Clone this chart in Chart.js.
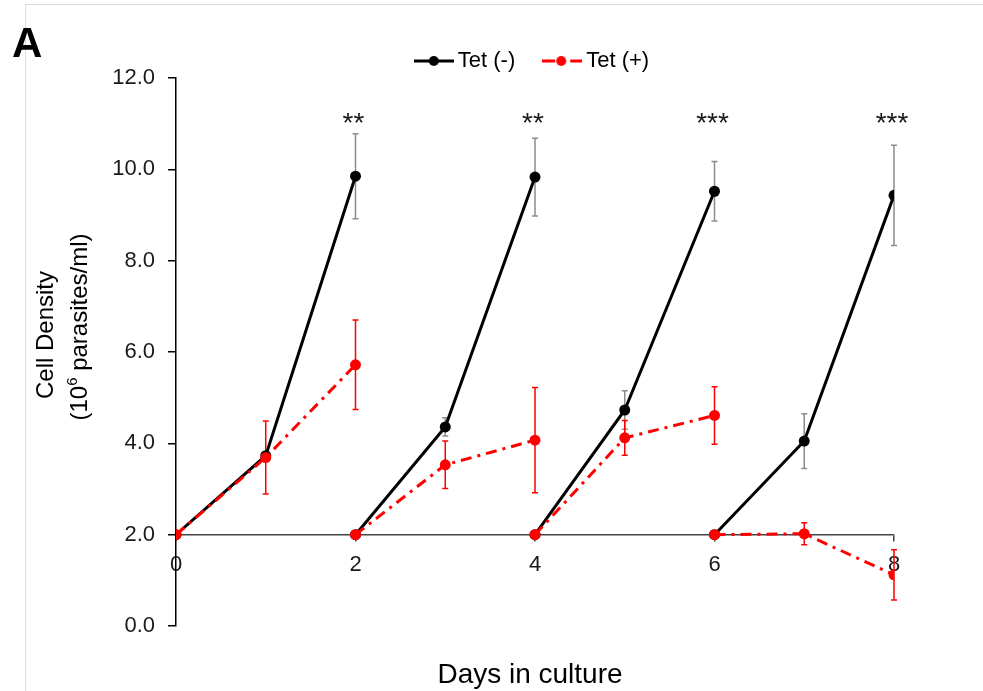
<!DOCTYPE html>
<html>
<head>
<meta charset="utf-8">
<script src="https://cdn.jsdelivr.net/npm/chart.js@4/dist/chart.umd.min.js"></script>
<style>
  html, body { margin: 0; padding: 0; background: #fff; }
  #wrap { position: relative; width: 983px; height: 691px; overflow: hidden; font-family: "Liberation Sans", Arial, sans-serif; }
  #frame { position: absolute; left: 25px; top: 4px; right: 0; bottom: 0; border-top: 1px solid #dcdcdc; border-left: 1px solid #dcdcdc; }
  #panel { position: absolute; left: 12px; top: 22px; font-weight: bold; font-size: 42px; line-height: 1; }
  canvas { position: absolute; left: 0; top: 0; }
</style>
</head>
<body>
<div id="wrap">
  <div id="frame"></div>
  <canvas id="growthChart" width="983" height="691"></canvas>
  <div id="panel">A</div>
</div>
<script>
// cultures were diluted back to 2.0 every 2 days -> 4 segments of 3 points
const segmentStarts = [0, 2, 4, 6];
const tetMinus    = [[2.0, 3.73, 9.85], [2.0, 4.36, 9.83], [2.0, 4.73, 9.52], [2.0, 4.05, 9.43]];
const tetMinusErr = [[0, 0, 0.93],      [0, 0.2, 0.85],    [0, 0.42, 0.65],   [0, 0.6, 1.1]];
const tetPlus     = [[2.0, 3.69, 5.72], [2.0, 3.53, 4.07], [2.0, 4.12, 4.61], [2.0, 2.02, 1.12]];
const tetPlusErr  = [[0, 0.8, 0.98],    [0, 0.52, 1.15],   [0, 0.38, 0.63],   [0, 0.24, 0.55]];
const sigDays  = [2, 4, 6, 8];
const sigMarks = ['**', '**', '***', '***'];
const sigLevel = 11.12;

Chart.defaults.font.family = '"Liberation Sans", Arial, sans-serif';
Chart.defaults.color = '#1a1a1a';

// null between segments breaks the line
function toPoints(segments) {
    const pts = [];
    segments.forEach((seg, s) => {
        if (s > 0) pts.push({ x: segmentStarts[s], y: null });
        seg.forEach((v, i) => pts.push({ x: segmentStarts[s] + i, y: v }));
    });
    return pts;
}

function legendIcon(color, dashed) {
    const c = document.createElement('canvas');
    c.width = 40; c.height = 12;
    const g = c.getContext('2d');
    g.strokeStyle = color; g.fillStyle = color; g.lineWidth = 3;
    g.beginPath();
    if (dashed) {
        g.moveTo(0, 6); g.lineTo(13, 6);
        g.moveTo(28, 6); g.lineTo(40, 6);
    } else {
        g.moveTo(0, 6); g.lineTo(40, 6);
    }
    g.stroke();
    g.beginPath();
    g.arc(dashed ? 19 : 20, 6, 5, 0, Math.PI * 2);
    g.fill();
    return c;
}
const legendIcons = [legendIcon('#000', false), legendIcon('#ff0000', true)];

function drawErrorBars(chart, segs, errs, color) {
    const { ctx, scales: { x, y } } = chart;
    ctx.save();
    ctx.strokeStyle = color;
    ctx.lineWidth = 1.5;
    segs.forEach((seg, s) => seg.forEach((v, i) => {
        const e = errs[s][i];
        if (!e) return;
        const px = x.getPixelForValue(segmentStarts[s] + i);
        const top = y.getPixelForValue(v + e);
        const bot = y.getPixelForValue(v - e);
        ctx.beginPath();
        ctx.moveTo(px - 3, top); ctx.lineTo(px + 3, top);
        ctx.moveTo(px, top); ctx.lineTo(px, bot);
        ctx.moveTo(px - 3, bot); ctx.lineTo(px + 3, bot);
        ctx.stroke();
    }));
    ctx.restore();
}

const extras = {
    id: 'extras',
    beforeDatasetsDraw(chart) {
        drawErrorBars(chart, tetMinus, tetMinusErr, '#8c8c8c');
        drawErrorBars(chart, tetPlus, tetPlusErr, '#ff0000');
    },
    afterDatasetsDraw(chart) {
        const { ctx, scales: { x, y } } = chart;
        ctx.save();
        ctx.fillStyle = '#1a1a1a';
        ctx.font = '28px "Liberation Sans", Arial, sans-serif';
        ctx.textAlign = 'center';
        ctx.textBaseline = 'middle';
        sigDays.forEach((d, i) => {
            ctx.fillText(sigMarks[i], x.getPixelForValue(d) - 2, y.getPixelForValue(sigLevel) + 6);
        });
        ctx.restore();
    },
    afterDraw(chart) {
        const ctx = chart.ctx;
        ctx.save();
        ctx.fillStyle = '#000';
        ctx.textBaseline = 'middle';
        // x title
        ctx.font = '28px "Liberation Sans", Arial, sans-serif';
        ctx.textAlign = 'center';
        ctx.fillText('Days in culture', 530, 675);
        // y title, two lines, second one with superscript
        ctx.font = '24px "Liberation Sans", Arial, sans-serif';
        ctx.save();
        ctx.translate(46, 335);
        ctx.rotate(-Math.PI / 2);
        ctx.fillText('Cell Density', 0, 0);
        ctx.restore();
        ctx.save();
        ctx.translate(80, 327);
        ctx.rotate(-Math.PI / 2);
        ctx.textAlign = 'left';
        const big = '24px "Liberation Sans", Arial, sans-serif';
        const small = '15px "Liberation Sans", Arial, sans-serif';
        const a = '(10', b = '6', c = ' parasites/ml)';
        ctx.font = big; const wa = ctx.measureText(a).width, wc = ctx.measureText(c).width;
        ctx.font = small; const wb = ctx.measureText(b).width;
        let sx = -(wa + wb + wc) / 2;
        ctx.font = big; ctx.fillText(a, sx, 0); sx += wa;
        ctx.font = small; ctx.fillText(b, sx, -7); sx += wb;
        ctx.font = big; ctx.fillText(c, sx, 0);
        ctx.restore();
        ctx.restore();
    }
};

const ctx = document.getElementById('growthChart').getContext('2d');
new Chart(ctx, {
    type: 'line',
    data: {
        datasets: [{
            label: 'Tet (-)',
            data: toPoints(tetMinus),
            borderColor: '#000',
            backgroundColor: '#000',
            borderWidth: 3,
            pointRadius: 5.5,
            pointBorderWidth: 0,
            spanGaps: false,
            order: 1
        }, {
            label: 'Tet (+)',
            data: toPoints(tetPlus),
            borderColor: '#ff0000',
            backgroundColor: '#ff0000',
            borderWidth: 3,
            borderDash: [11, 6, 3, 6],
            pointRadius: 5.5,
            pointBorderWidth: 0,
            spanGaps: false,
            order: 0
        }]
    },
    options: {
        responsive: false,
        animation: false,
        layout: { padding: { left: 0, right: 89, top: 16, bottom: 65 } },
        scales: {
            x: {
                type: 'linear',
                position: { y: 2 },
                min: 0,
                max: 8,
                ticks: { stepSize: 2, font: { size: 22 }, color: '#1a1a1a', padding: 11 },
                grid: { drawOnChartArea: false, tickLength: 6, color: '#444', lineWidth: 1.5 },
                border: { color: '#444', width: 1.5 }
            },
            y: {
                min: 0,
                max: 12,
                ticks: { stepSize: 2, font: { size: 22 }, color: '#1a1a1a', padding: 13, callback: v => v.toFixed(1) },
                grid: { drawOnChartArea: false, tickLength: 8, color: '#000', lineWidth: 1.5 },
                border: { color: '#000', width: 1.5 },
                afterFit(scale) { scale.width = 176; }
            }
        },
        plugins: {
            legend: {
                position: 'top',
                fullSize: false,
                maxHeight: 62,
                labels: {
                    usePointStyle: true,
                    pointStyleWidth: 26,
                    padding: 34,
                    color: '#000',
                    font: { size: 22 },
                    sort: (a, b) => a.datasetIndex - b.datasetIndex,
                    generateLabels(chart) {
                        const items = Chart.defaults.plugins.legend.labels.generateLabels(chart);
                        items.forEach(it => { it.pointStyle = legendIcons[it.datasetIndex]; });
                        return items;
                    }
                }
            },
            tooltip: { enabled: false }
        }
    },
    plugins: [extras]
});
</script>
</body>
</html>
